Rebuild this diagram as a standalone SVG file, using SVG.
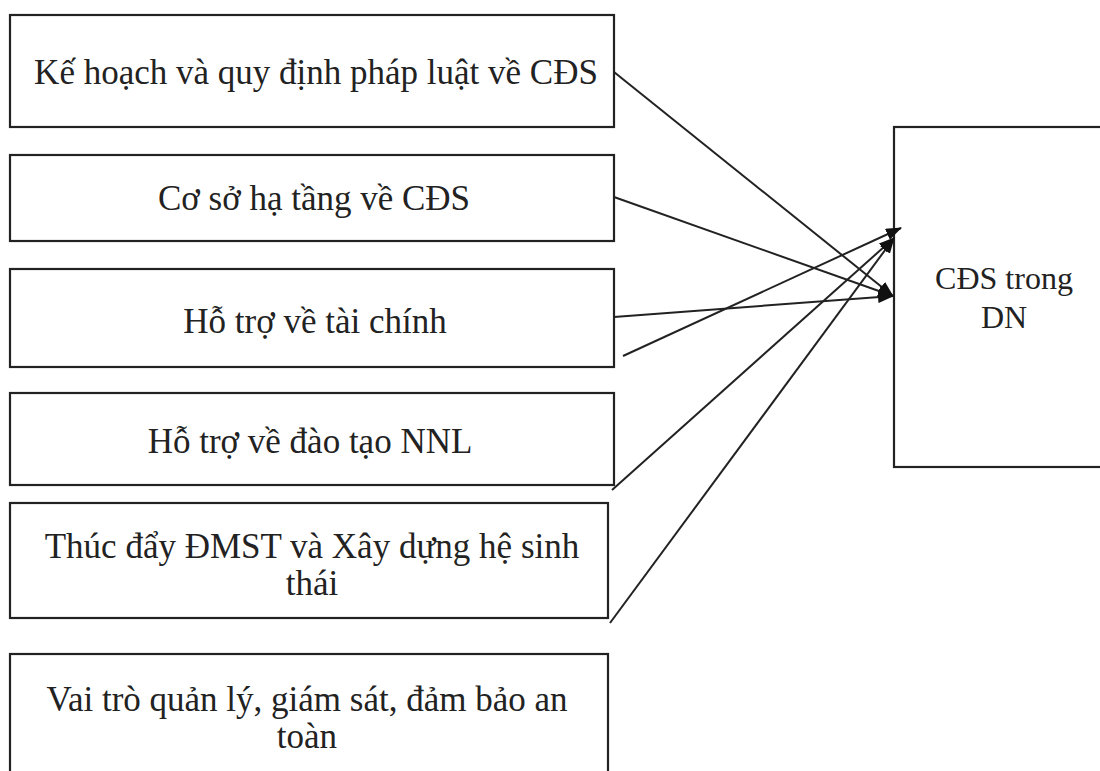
<svg xmlns="http://www.w3.org/2000/svg" width="1100" height="771" viewBox="0 0 1100 771">
<style>
.box{fill:#fff;stroke:#222;stroke-width:2.2}
.t{font-family:"Liberation Serif","Times New Roman",serif;font-size:35px;fill:#222;text-anchor:middle}
.tr{font-family:"Liberation Serif","Times New Roman",serif;font-size:32px;fill:#222;text-anchor:middle}
.c{stroke:#222;stroke-width:2;fill:none;marker-end:url(#ah)}
</style>
<defs>
<marker id="ah" markerUnits="userSpaceOnUse" markerWidth="16" markerHeight="12" refX="15" refY="6" orient="auto">
<path d="M0,0 L16,6 L0,12 Z" fill="#111"/>
</marker>
</defs>
<rect width="1100" height="771" fill="#fff"/>
<g id="n1"><rect class="box" x="10" y="15" width="604" height="112"/><text class="t" x="316" y="84">Kế hoạch và quy định pháp luật về CĐS</text></g>
<g id="n2"><rect class="box" x="10" y="155" width="604" height="86"/><text class="t" x="314" y="210">Cơ sở hạ tầng về CĐS</text></g>
<g id="n3"><rect class="box" x="10" y="269" width="604" height="98"/><text class="t" x="315" y="333">Hỗ trợ về tài chính</text></g>
<g id="n4"><rect class="box" x="10" y="393" width="604" height="92"/><text class="t" x="310" y="453">Hỗ trợ về đào tạo NNL</text></g>
<g id="n5"><rect class="box" x="10" y="503" width="598" height="115"/><text class="t" x="312" y="558">Thúc đẩy ĐMST và Xây dựng hệ sinh</text><text class="t" x="312" y="595">thái</text></g>
<g id="n6"><rect class="box" x="10" y="654" width="598" height="130"/><text class="t" x="307" y="711">Vai trò quản lý, giám sát, đảm bảo an</text><text class="t" x="307" y="748">toàn</text></g>
<g id="n7"><rect class="box" x="894" y="127" width="230" height="340"/><text class="tr" x="1004" y="289">CĐS trong</text><text class="tr" x="1004" y="328">DN</text></g>
<g id="connectors">
<line class="c" x1="614" y1="72" x2="893" y2="296"/>
<line class="c" x1="614" y1="197" x2="893" y2="296"/>
<line class="c" x1="614" y1="317" x2="893" y2="296"/>
<line class="c" x1="623" y1="356" x2="901" y2="228"/>
<line class="c" x1="612" y1="490" x2="894" y2="238"/>
<line class="c" x1="610" y1="623" x2="894" y2="238"/>
</g>
</svg>
